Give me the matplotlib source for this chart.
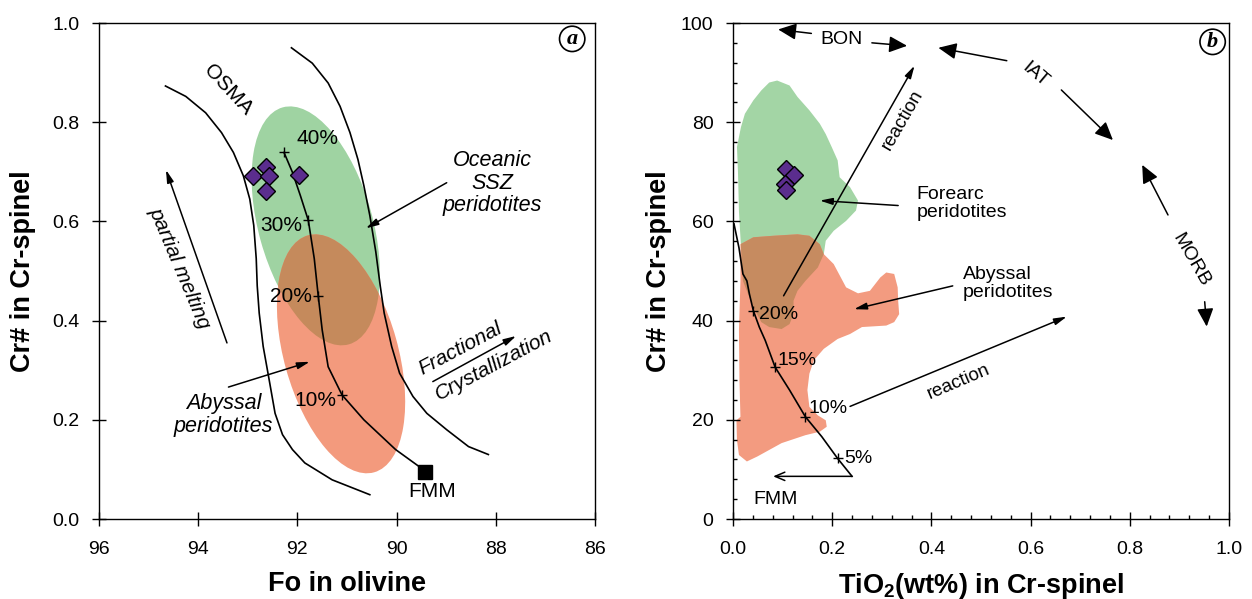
import matplotlib
matplotlib.use("Agg")
import matplotlib.pyplot as plt
from matplotlib.patches import Ellipse, Polygon
from matplotlib.ticker import MultipleLocator, FormatStrFormatter

plt.rcParams['font.family'] = ['Liberation Sans', 'DejaVu Sans']
plt.rcParams['mathtext.fontset'] = 'custom'
plt.rcParams['mathtext.rm'] = 'Liberation Sans'
plt.rcParams['mathtext.bf'] = 'Liberation Sans:bold'

# ---------------- Panel (a) data ----------------
fo_ticks = [96, 94, 92, 90, 88, 86]
cr_ticks_a = [0.0, 0.2, 0.4, 0.6, 0.8, 1.0]

osma_left_fo = [94.66, 94.25, 93.85, 93.53, 93.29, 93.09, 92.96, 92.88, 92.83, 92.81,
                92.77, 92.69, 92.57, 92.45, 92.30, 92.10, 91.85, 91.30, 90.54]
osma_left_cr = [0.873, 0.852, 0.819, 0.779, 0.739, 0.692, 0.645, 0.592, 0.525, 0.470,
                0.415, 0.348, 0.281, 0.213, 0.170, 0.140, 0.113, 0.079, 0.049]

osma_right_fo = [92.12, 91.70, 91.38, 91.14, 90.94, 90.78, 90.66, 90.54, 90.42, 90.33,
                 90.25, 90.10, 89.94, 89.67, 89.39, 88.99, 88.55, 88.15]
osma_right_cr = [0.950, 0.919, 0.879, 0.832, 0.779, 0.725, 0.672, 0.612, 0.539, 0.470,
                 0.415, 0.348, 0.294, 0.247, 0.213, 0.180, 0.146, 0.130]

melt_a_fo = [92.27, 92.10, 91.94, 91.78, 91.66, 91.58, 91.50, 91.38, 91.10, 90.66, 90.02, 89.55, 89.43]
melt_a_cr = [0.739, 0.699, 0.652, 0.602, 0.525, 0.450, 0.381, 0.307, 0.250, 0.200, 0.140, 0.106, 0.094]

pct_a_labels = ['40%', '30%', '20%', '10%']
pct_a_tick_fo = [92.27, 91.78, 91.58, 91.10]
pct_a_tick_cr = [0.739, 0.602, 0.450, 0.250]
pct_a_text_fo = [91.59, 92.32, 92.14, 91.64]
pct_a_text_cr = [0.767, 0.592, 0.448, 0.239]

fmm_a = (89.43, 0.094)

samples_a_fo = [92.89, 92.64, 92.57, 92.63, 91.96]
samples_a_cr = [0.692, 0.710, 0.692, 0.662, 0.694]

# ellipse fields: centre (Fo, Cr#), semi-axes as fraction of the (square) plot box, tilt in degrees
ssz_centre = (91.63, 0.591)
abyssal_a_centre = (91.12, 0.333)
field_semi_major = 0.248
field_semi_minor = 0.115
field_tilt = 15.6

# ---------------- Panel (b) data ----------------
ti_ticks = [0.0, 0.2, 0.4, 0.6, 0.8, 1.0]
cr_ticks_b = [0, 20, 40, 60, 80, 100]

forearc_ti = [0.020, 0.016, 0.012, 0.010, 0.008, 0.016, 0.024, 0.041, 0.057, 0.073, 0.089,
              0.114, 0.130, 0.154, 0.175, 0.187, 0.199, 0.211, 0.215, 0.236, 0.252, 0.248,
              0.228, 0.203, 0.187, 0.183, 0.171, 0.146, 0.130, 0.122, 0.122, 0.114, 0.098,
              0.073, 0.057, 0.045, 0.033]
forearc_cr = [48.0, 55.0, 62.0, 70.0, 75.0, 79.0, 81.7, 84.4, 86.4, 88.0, 88.4,
              87.4, 85.1, 82.4, 79.7, 77.6, 75.0, 72.3, 68.9, 66.9, 64.2, 62.2,
              60.1, 58.1, 56.1, 53.4, 50.7, 48.0, 46.0, 44.0, 41.3, 39.3, 38.3,
              38.7, 39.7, 42.0, 44.7]

abyssal_b_ti = [0.015, 0.041, 0.081, 0.130, 0.154, 0.175, 0.183, 0.203, 0.228, 0.252, 0.276,
                0.297, 0.309, 0.325, 0.332, 0.333, 0.335, 0.325, 0.309, 0.260, 0.236, 0.211,
                0.183, 0.163, 0.154, 0.150, 0.154, 0.171, 0.187, 0.189, 0.175, 0.146, 0.098,
                0.049, 0.028, 0.012, 0.008, 0.007, 0.015, 0.013, 0.012, 0.015]
abyssal_b_cr = [55.4, 56.8, 57.1, 57.4, 57.1, 55.4, 53.4, 51.4, 46.7, 45.5, 46.0,
                48.7, 49.7, 49.4, 46.7, 44.0, 41.3, 39.7, 39.0, 38.7, 37.3, 36.3,
                34.3, 32.0, 29.3, 26.0, 22.6, 20.9, 19.9, 18.6, 17.6, 16.9, 15.3,
                12.6, 11.6, 12.9, 15.9, 19.9, 20.6, 28.0, 38.0, 48.0]

melt_b_ti = [0.002, 0.012, 0.020, 0.028, 0.033, 0.041, 0.053, 0.065, 0.085, 0.114, 0.130,
             0.146, 0.179, 0.211, 0.240]
melt_b_cr = [59.5, 54.7, 49.4, 48.0, 45.4, 42.0, 38.7, 36.0, 30.6, 26.0, 23.3,
             20.6, 16.6, 12.2, 8.6]

pct_b_labels = ['20%', '15%', '10%', '5%']
pct_b_tick_ti = [0.041, 0.085, 0.146, 0.211]
pct_b_tick_cr = [42.0, 30.6, 20.6, 12.2]
pct_b_text_ti = [0.091, 0.130, 0.191, 0.252]
pct_b_text_cr = [41.3, 32.0, 22.3, 12.2]

samples_b_ti = [0.106, 0.122, 0.104, 0.107]
samples_b_cr = [70.6, 69.3, 67.6, 66.4]

# ---------------- colours ----------------
GREEN = '#9fd3a2'
SALMON = '#f39a7d'
BROWN = '#c58a5c'
GREEN_B = '#a3d5a5'
SALMON_B = '#f39b80'
BROWN_B = '#c68b60'
PURPLE = '#5b2d8e'

fig = plt.figure(figsize=(12.52, 5.99), dpi=100)
axA = fig.add_axes([99 / 1252, 80 / 599, 496 / 1252, 496 / 599])
axB = fig.add_axes([733 / 1252, 80 / 599, 496 / 1252, 496 / 599])


def arrow(ax, start, end, big=False, open_head=False, lw=1.1):
    if big:
        style = '-|>,head_length=1.1,head_width=0.5'
    elif open_head:
        style = '->,head_length=0.7,head_width=0.3'
    else:
        style = '-|>,head_length=0.75,head_width=0.2'
    ax.annotate('', xy=end, xytext=start,
                arrowprops=dict(arrowstyle=style, color='black', lw=lw,
                                shrinkA=0, shrinkB=0, mutation_scale=10),
                zorder=4)


def style_axes(ax, major_len, minor=False):
    for s in ax.spines.values():
        s.set_linewidth(1.0)
    ax.tick_params(which='major', direction='inout', length=major_len, width=1.0,
                   labelsize=14, top=False, right=False)
    ax.tick_params(axis='x', which='major', pad=10.5)
    ax.tick_params(axis='y', which='major', pad=9.0)
    if minor:
        ax.tick_params(which='minor', direction='in', length=3, width=1.0,
                       top=False, right=False)


# ================= Panel (a) =================
axA.set_xlim(96, 86)
axA.set_ylim(0, 1.0)
axA.set_xticks(fo_ticks)
axA.set_yticks(cr_ticks_a)
axA.yaxis.set_major_formatter(FormatStrFormatter('%.1f'))
style_axes(axA, 10)

to_frac = axA.transData + axA.transAxes.inverted()


def field_ellipse(ax, centre, color, z):
    cx, cy = (ax.transData + ax.transAxes.inverted()).transform(centre)
    e = Ellipse((cx, cy), width=2 * field_semi_minor, height=2 * field_semi_major,
                angle=field_tilt, transform=ax.transAxes, facecolor=color,
                edgecolor='none', zorder=z)
    ax.add_patch(e)
    return e


e_ssz = field_ellipse(axA, ssz_centre, GREEN, 1)
e_aby = field_ellipse(axA, abyssal_a_centre, SALMON, 1.1)
e_mix = field_ellipse(axA, ssz_centre, BROWN, 1.2)
e_mix.set_clip_path(e_aby)

axA.plot(osma_left_fo, osma_left_cr, color='black', lw=1.2, zorder=2)
axA.plot(osma_right_fo, osma_right_cr, color='black', lw=1.2, zorder=2)
axA.plot(melt_a_fo, melt_a_cr, color='black', lw=1.2, zorder=2)
axA.plot(pct_a_tick_fo, pct_a_tick_cr, linestyle='none', marker='+', ms=7,
         mew=1.0, color='black', zorder=3)
for lab, x, y in zip(pct_a_labels, pct_a_text_fo, pct_a_text_cr):
    axA.text(x, y, lab, fontsize=15, ha='center', va='center', zorder=5)
axA.plot([fmm_a[0]], [fmm_a[1]], marker='s', ms=9.4, color='black', zorder=3)
axA.text(89.29, 0.056, 'FMM', fontsize=15, ha='center', va='center')
axA.plot(samples_a_fo, samples_a_cr, linestyle='none', marker='D', ms=9.0,
         mfc=PURPLE, mec='black', mew=1.0, zorder=6)

axA.text(93.40, 0.866, 'OSMA', fontsize=15, rotation=-47, ha='center', va='center')
axA.text(94.37, 0.505, 'partial melting', fontsize=15, style='italic', rotation=-67,
         ha='center', va='center')
arrow(axA, (93.42, 0.355), (94.65, 0.704))
axA.text(88.07, 0.677, 'Oceanic\nSSZ\nperidotites', fontsize=15.5, style='italic',
         ha='center', va='center', linespacing=1.1)
arrow(axA, (88.99, 0.678), (90.62, 0.586))
axA.text(93.49, 0.210, 'Abyssal\nperidotites', fontsize=15.5, style='italic',
         ha='center', va='center', linespacing=1.1)
arrow(axA, (93.39, 0.266), (91.75, 0.317))
axA.text(88.71, 0.344, 'Fractional', fontsize=15, style='italic', rotation=28,
         ha='center', va='center')
axA.text(88.04, 0.310, 'Crystallization', fontsize=15, style='italic', rotation=28,
         ha='center', va='center')
arrow(axA, (89.27, 0.277), (87.59, 0.369))

axA.text(0.954, 0.968, 'a', transform=axA.transAxes, fontsize=16,
         family=['Liberation Serif', 'DejaVu Serif'], style='italic', weight='bold',
         ha='center', va='center',
         bbox=dict(boxstyle='circle,pad=0.12', fc='white', ec='black', lw=1.2))

axA.set_xlabel('Fo in olivine', fontsize=19.5, fontweight='bold')
axA.set_ylabel('Cr# in Cr-spinel', fontsize=19.5, fontweight='bold')
axA.xaxis.set_label_coords(0.5, -0.105)
axA.xaxis.label.set_va('top')
axA.yaxis.set_label_coords(-0.127, 0.5)

# ================= Panel (b) =================
axB.set_xlim(0, 1.0)
axB.set_ylim(0, 100)
axB.set_xticks(ti_ticks)
axB.set_yticks(cr_ticks_b)
axB.xaxis.set_major_formatter(FormatStrFormatter('%.1f'))
axB.xaxis.set_minor_locator(MultipleLocator(0.04))
axB.yaxis.set_minor_locator(MultipleLocator(4))
style_axes(axB, 10, minor=True)

p_fore = Polygon(list(zip(forearc_ti, forearc_cr)), closed=True, facecolor=GREEN_B,
                 edgecolor='none', zorder=1)
p_aby = Polygon(list(zip(abyssal_b_ti, abyssal_b_cr)), closed=True, facecolor=SALMON_B,
                edgecolor='none', zorder=1.1)
p_mix = Polygon(list(zip(forearc_ti, forearc_cr)), closed=True, facecolor=BROWN_B,
                edgecolor='none', zorder=1.2)
axB.add_patch(p_fore)
axB.add_patch(p_aby)
axB.add_patch(p_mix)
p_mix.set_clip_path(p_aby)

axB.plot(melt_b_ti, melt_b_cr, color='black', lw=1.2, zorder=2)
axB.plot(pct_b_tick_ti, pct_b_tick_cr, linestyle='none', marker='+', ms=7,
         mew=1.0, color='black', zorder=3)
for lab, x, y in zip(pct_b_labels, pct_b_text_ti, pct_b_text_cr):
    axB.text(x, y, lab, fontsize=14, ha='center', va='center', zorder=5)
arrow(axB, (0.240, 8.6), (0.081, 8.6), open_head=True)
axB.text(0.085, 3.9, 'FMM', fontsize=14, ha='center', va='center')
axB.plot(samples_b_ti, samples_b_cr, linestyle='none', marker='D', ms=9.5,
         mfc=PURPLE, mec='black', mew=1.0, zorder=6)

axB.text(0.218, 96.7, 'BON', fontsize=14, ha='center', va='center')
arrow(axB, (0.158, 97.9), (0.091, 98.7), big=True)
arrow(axB, (0.280, 96.0), (0.351, 95.4), big=True)
axB.text(0.609, 89.5, 'IAT', fontsize=14, rotation=-40, ha='center', va='center')
arrow(axB, (0.552, 92.4), (0.414, 95.0), big=True)
arrow(axB, (0.662, 86.5), (0.766, 76.4), big=True)
axB.text(0.923, 52.2, 'MORB', fontsize=14, rotation=-60, ha='center', va='center')
arrow(axB, (0.877, 61.3), (0.825, 71.4), big=True)
arrow(axB, (0.951, 43.8), (0.955, 38.8), big=True)

axB.text(0.341, 80.4, 'reaction', fontsize=13.5, rotation=60, ha='center', va='center')
arrow(axB, (0.102, 45.0), (0.366, 91.4))
axB.text(0.455, 27.6, 'reaction', fontsize=13.5, rotation=23, ha='center', va='center')
arrow(axB, (0.236, 22.7), (0.673, 40.8))

axB.text(0.370, 63.6, 'Forearc\nperidotites', fontsize=14, ha='left', va='center',
         linespacing=1.07)
arrow(axB, (0.333, 63.2), (0.175, 64.2))
axB.text(0.463, 47.5, 'Abyssal\nperidotites', fontsize=14, ha='left', va='center',
         linespacing=1.07)
arrow(axB, (0.443, 47.0), (0.244, 42.3))

axB.text(0.967, 0.962, 'b', transform=axB.transAxes, fontsize=16,
         family=['Liberation Serif', 'DejaVu Serif'], style='italic', weight='bold',
         ha='center', va='center',
         bbox=dict(boxstyle='circle,pad=0.12', fc='white', ec='black', lw=1.2))

axB.set_xlabel(r'TiO$_\mathbf{2}$(wt%) in Cr-spinel', fontsize=19.5, fontweight='bold')
axB.set_ylabel('Cr# in Cr-spinel', fontsize=19.5, fontweight='bold')
axB.xaxis.set_label_coords(0.5, -0.105)
axB.xaxis.label.set_va('top')
axB.yaxis.set_label_coords(-0.123, 0.5)

fig.savefig('out.png', dpi=100)
